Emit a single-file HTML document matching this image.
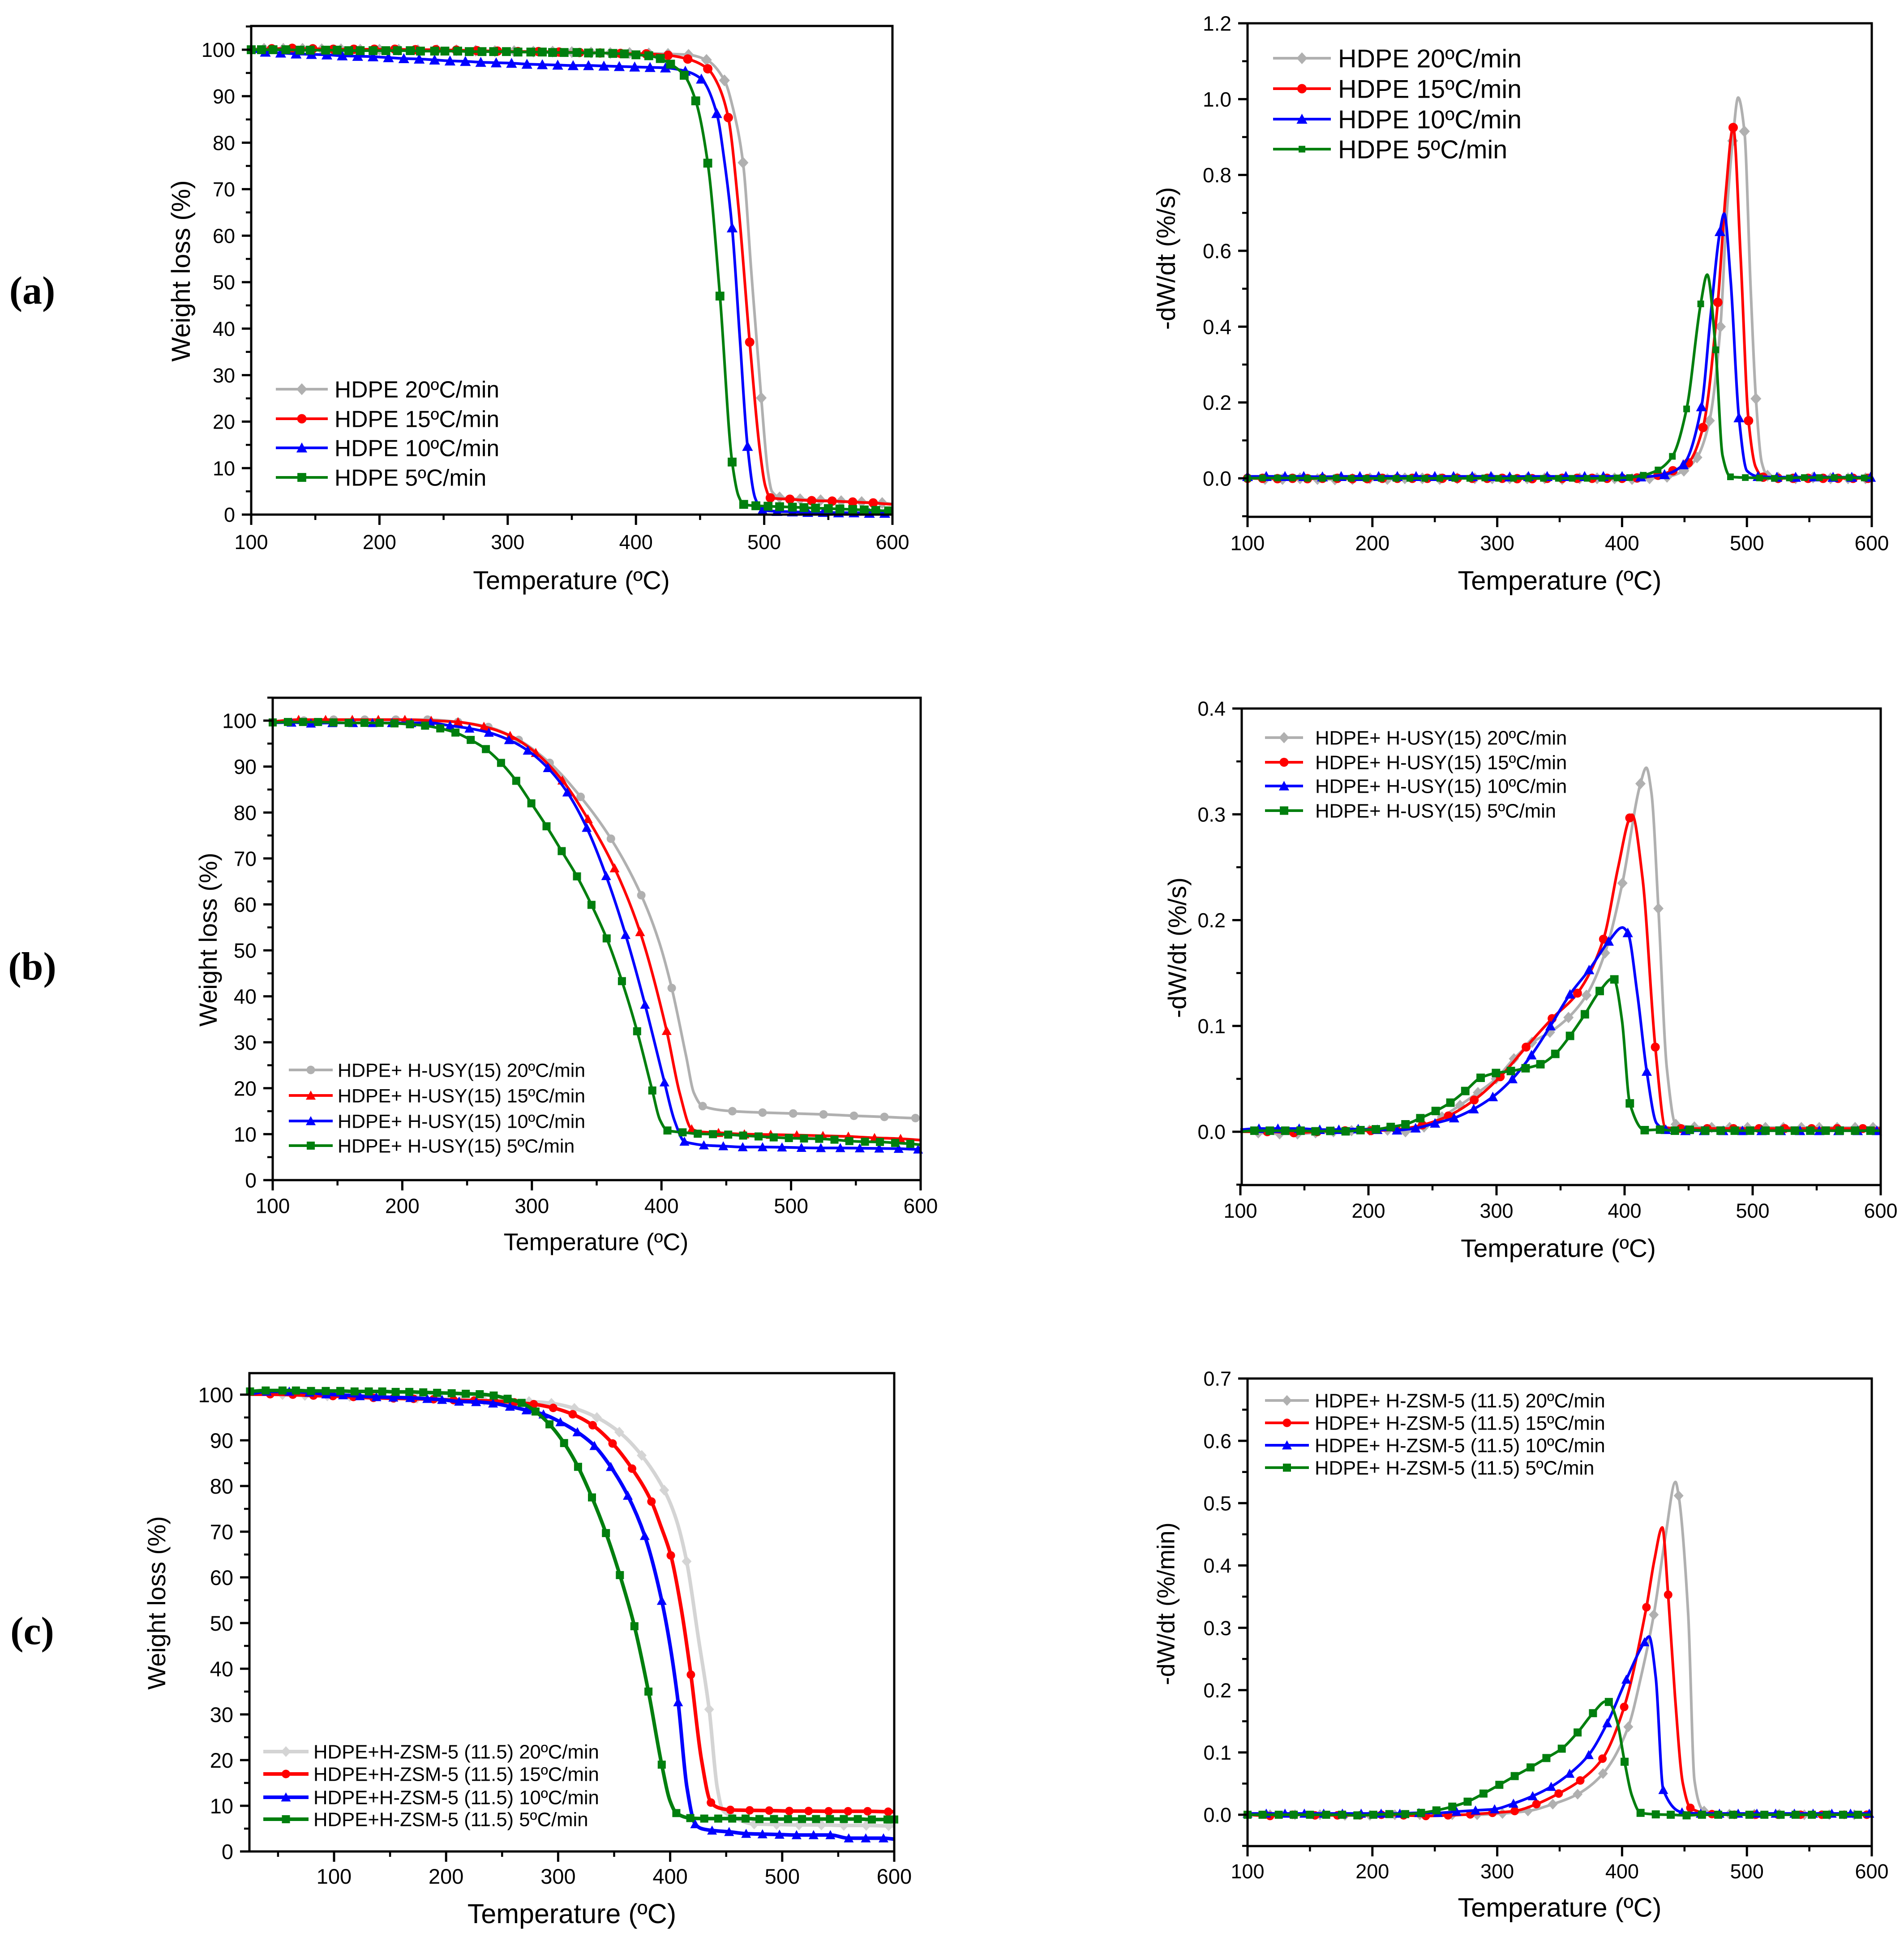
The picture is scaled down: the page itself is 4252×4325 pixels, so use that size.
<!DOCTYPE html>
<html lang="en">
<head>
<meta charset="utf-8">
<title>TGA and DTG curves of HDPE with catalysts</title>
<style>
html,body{margin:0;padding:0;background:#fff}
svg{display:block}
text{font-family:"Liberation Sans",Arial,sans-serif;fill:#000}
</style>
</head>
<body>
<svg id="figure" xmlns="http://www.w3.org/2000/svg" width="4252" height="4325" viewBox="0 0 4252 4325">
<rect x="0" y="0" width="4252" height="4325" fill="#ffffff"/>
<text x="72" y="678" text-anchor="middle" font-size="88" style="font-family:'Liberation Serif',serif;font-weight:bold">(a)</text>
<text x="72" y="2187" text-anchor="middle" font-size="88" style="font-family:'Liberation Serif',serif;font-weight:bold">(b)</text>
<text x="72" y="3671" text-anchor="middle" font-size="88" style="font-family:'Liberation Serif',serif;font-weight:bold">(c)</text>
</svg>
<script>
/* ---------- tick labels ---------- */
const tempTicks=[100,200,300,400,500,600];
const weightTicks=[0,10,20,30,40,50,60,70,80,90,100];
const dtgTicksA=[0.0,0.2,0.4,0.6,0.8,1.0,1.2];
const dtgTicksB=[0.0,0.1,0.2,0.3,0.4];
const dtgTicksC=[0.0,0.1,0.2,0.3,0.4,0.5,0.6,0.7];

/* ---------- legend labels ---------- */
const legendA=['HDPE 20ºC/min','HDPE 15ºC/min','HDPE 10ºC/min','HDPE 5ºC/min'];
const legendB=['HDPE+ H-USY(15) 20ºC/min','HDPE+ H-USY(15) 15ºC/min','HDPE+ H-USY(15) 10ºC/min','HDPE+ H-USY(15) 5ºC/min'];
const legendC=['HDPE+H-ZSM-5 (11.5) 20ºC/min','HDPE+H-ZSM-5 (11.5) 15ºC/min','HDPE+H-ZSM-5 (11.5) 10ºC/min','HDPE+H-ZSM-5 (11.5) 5ºC/min'];
const legendD=['HDPE+ H-ZSM-5 (11.5) 20ºC/min','HDPE+ H-ZSM-5 (11.5) 15ºC/min','HDPE+ H-ZSM-5 (11.5) 10ºC/min','HDPE+ H-ZSM-5 (11.5) 5ºC/min'];

/* ---------- panel (a) weight loss ---------- */
const a1T20=[100,110,125,140,155,170,185,200,215,230,245,260,275,290,305,320,335,350,365,380,395,410,425,441,455,469,476,483.5,490,497.7,503,506,512,528,544,560,576,592,600];
const a1V20=[100.2,100.2,100.2,100.2,100.1,100.1,100,100,100,99.9,99.9,99.9,99.8,99.7,99.7,99.6,99.6,99.5,99.4,99.3,99.3,99.2,99.1,98.9,97.8,93.4,87,75.7,52,25.1,9,5,3.7,3.3,3.1,2.9,2.7,2.5,2.3];
const a1N20=[100,476,490,503,506,600];
const a1T15=[100,116,132,148,164,180,196,212,228,244,260,276,292,308,324,340,356,372,388,408,425,440.4,456,464,472,480,488.7,497,501,504.8,520,537,553,569,585,600];
const a1V15=[100,100.2,100.3,100.2,100.1,100.1,100.1,100.1,100,100,99.9,99.8,99.7,99.6,99.6,99.5,99.4,99.3,99.2,99.1,98.8,98,95.9,92.5,85.4,66,37.1,13,6,3.6,3.3,3,2.9,2.7,2.5,2.2];
const a1N15=[100,464,480,497,501,600];
const a1T10=[100,111,123,135,147,159,171,183,195,207,219,231,243,255,267,279,291,303,315,327,339,351,363,375,387,399,411,423,438.5,451,463,469,475,481,487,493,498.7,510,522,534,546,558,570,582,594,600];
const a1V10=[99.6,99.5,99.3,99.1,99,98.9,98.7,98.6,98.5,98.3,98.1,98,97.8,97.6,97.5,97.3,97.2,97.1,96.9,96.8,96.7,96.6,96.6,96.5,96.4,96.3,96.2,96.1,95.4,93.7,86.3,76,61.7,38,14.7,3.5,0.95,0.7,0.6,0.5,0.5,0.4,0.4,0.3,0.3,0.3];
const a1N10=[100,469,481,493,600];
const a1T5=[100,108,117,127,138,146,158,167,176,185,195,205,214,224,232,243,251,261,270,280,289,299,308,318,327,335,344,354,363,372,382,391,400,410,419,427,437.6,446.6,456,465.5,475,480,484,493.5,503,512,522,531,540,550,559,569,578,587,597,600];
const a1V5=[100,100,100,100,99.9,99.9,99.9,99.9,99.8,99.8,99.8,99.8,99.8,99.8,99.7,99.7,99.7,99.7,99.6,99.6,99.6,99.6,99.5,99.5,99.5,99.4,99.4,99.4,99.3,99.3,99.2,99.1,98.9,98.7,98.1,96.9,94.5,89,75.6,47,11.3,4,2.2,1.9,1.8,1.7,1.6,1.5,1.4,1.3,1.2,1.1,1,0.9,0.8,0.8];
const a1N5=[480,600];

/* ---------- panel (a) DTG ---------- */
const a2T20=[100,114,128,142,156,170,184,198,212,226,240,254,268,282,296,310,324,338,352,366,380,394,408,422,436,449.5,460,470,478.8,483.5,488.6,493,498,503,507.2,512,516.5,525,539,553,567,581,595,600];
const a2V20=[0,-0.002,-0.002,0,-0.002,-0.003,-0.002,0,-0.002,0,0,-0.002,0,0,0,0,0,0,-0.002,0,0,0,-0.002,0,0.004,0.02,0.055,0.152,0.4,0.68,0.89,1.004,0.915,0.5,0.21,0.04,0.007,0.002,0,0.002,0,0,0,0];
const a2N20=[100,483.5,493,503,512,600];
const a2T15=[100,112,124,136,148,160,172,184,196,208,220,232,244,256,268,280,292,304,316,328,340,352,364,376,388,400,412,428.8,440.7,453,464.8,476.7,483,489,495,501.3,507,513,525,537,549,561,573,585,597,600];
const a2V15=[0,0,-0.001,0,-0.001,0,0,-0.001,-0.001,0,0,0,0,0,0,0,0,0,-0.001,-0.001,0,0,0,0,0,0,0.001,0.008,0.02,0.041,0.134,0.464,0.75,0.925,0.58,0.152,0.03,0.003,0,0,0,0,0,0,0,0];
const a2N15=[483,495,507,600];
const a2T10=[100,115,130,145,160,175,190,205,220,235,250,265,280,295,310,325,340,355,370,385,400,415,434,449,463.6,471,478.4,481.8,487,493.6,500,508.9,524,539,554,569,584,599,600];
const a2V10=[0.005,0.005,0.005,0.005,0.004,0.005,0.005,0.005,0.005,0.005,0.005,0.005,0.005,0.005,0.004,0.005,0.005,0.005,0.005,0.005,0.005,0.004,0.01,0.036,0.189,0.43,0.651,0.698,0.52,0.16,0.02,0.005,0.003,0.003,0.004,0.003,0.003,0.003,0.003];
const a2N10=[471,481.8,487,500,600];
const a2T5=[100,112,124,136,148,160,171,183,195,207,219,230,242,254,266,278,290,301,313,325,337,349,360,372,384,396,406,417,428.8,440.3,451.7,463,468.2,475,480.5,486.8,498.7,510,522,534,546,558,570,582,594,600];
const a2V5=[0,0.001,0.001,0.001,0,0,0.001,0,0,0,0,0,0,0,0,0,0.001,0,0,0,0,0,0,0,0,0.001,0.002,0.008,0.022,0.058,0.183,0.46,0.537,0.339,0.06,0.004,0.002,0.001,0,0.001,0.002,0.002,0.002,0.002,0.001,0.001];
const a2N5=[468.2,480.5,600];

/* ---------- panel (b) weight loss ---------- */
const b1T20=[100,124,147,171,195,219.5,243,266.4,289.8,313.7,337.6,361,384.4,398,407.9,419,425,431.8,454.7,478,501.6,525,548.5,572,596,600];
const b1V20=[99.8,100,100.2,100.2,100.2,100.2,99.7,98.6,95.8,90.8,83.4,74.3,62,52,41.8,27,19,16.1,15,14.7,14.5,14.3,14,13.75,13.5,13.5];
const b1N20=[100,398,419,425,600];
const b1T15=[100,120,140.8,161.4,181.5,202,222.3,243,263,283.2,303,323.5,343.2,363.8,383.5,404,414,423.3,431,444,464,484.3,504.4,524.6,544.2,564.4,584.5,600];
const b1V15=[99.8,100.2,100.2,100.2,100.2,100.2,100,99.7,98.7,96.7,93,87,78.6,67.9,54,32.5,19,11.1,10.5,10.3,10,9.9,9.8,9.65,9.5,9.2,9,8.7];
const b1N15=[100,414,431,600];
const b1T10=[100,114.5,129.5,146,162,177,192,207,221.8,236.8,251.8,266.8,282.3,296.8,312.3,327.3,342.3,357.3,372.3,387.3,402.3,410,417.7,425,432.7,447.7,462.7,478,493,508,523,538,553,568,583,598,600];
const b1V10=[99.5,99.6,99.4,99.5,99.5,99.5,99.5,99.5,99.5,98.9,98.3,97.4,95.8,93.5,89.7,84.4,76.7,66.2,53.4,38.2,21.3,13,8.4,7.9,7.6,7.4,7.2,7.2,7.15,7.05,7,7,6.95,6.9,6.85,6.7,6.7];
const b1N10=[100,410,425,600];
const b1T5=[100,111.7,123.4,135,146.9,158.6,170.8,182.5,194,205.9,217.6,229.3,241,252.8,264.5,276.2,287.9,299.6,311.3,323,334.8,346,357.7,369.5,381.2,392.9,399,404.6,416.3,428,439.7,451.5,463,474.9,486.6,498.3,510,521.7,533.5,545,557,568.6,580.3,592,600];
const b1V5=[99.6,99.7,99.7,99.7,99.6,99.5,99.5,99.5,99.4,99.2,98.9,98.3,97.4,95.8,93.8,90.8,86.9,82,77,71.6,66.1,59.9,52.6,43.3,32.4,19.5,13,10.8,10.4,10.1,10,9.9,9.7,9.5,9.3,9.15,9.05,9,8.8,8.5,8.35,8.3,8.1,7.9,7.7];
const b1N5=[399,600];

/* ---------- panel (b) DTG ---------- */
const b2T20=[100,114,130.6,144.6,158.7,172.7,186.8,200.8,214.9,228.9,243.4,257.4,271.5,285.5,299.6,313.6,327.7,341.7,356.2,370.2,384.7,398.3,412.4,417,421,426.4,433,440,454.5,468,482,496,510,524,538,552,566,580,594,600];
const b2V20=[0.001,-0.001,-0.002,-0.002,-0.001,0,0.001,0.0015,0.0015,0,0.0045,0.014,0.025,0.037,0.05,0.069,0.0845,0.094,0.108,0.129,0.169,0.235,0.329,0.344,0.32,0.211,0.06,0.007,0.0045,0.004,0.004,0.004,0.004,0.004,0.004,0.004,0.004,0.004,0.004,0.004];
const b2N20=[100,417,421,433,600];
const b2T15=[100,121,141.7,160,181.8,202,221.9,242.1,262.4,282.6,302.9,323.1,343.4,363.2,383.5,395,404,405.8,414,424,432,444,464.5,485,505,525,546,566,586,600];
const b2V15=[0,0,-0.001,0,0.001,0.001,0.002,0.0064,0.015,0.03,0.052,0.08,0.107,0.131,0.182,0.25,0.2966,0.2996,0.24,0.08,0.004,0.003,0.003,0.003,0.003,0.003,0.003,0.003,0.003,0.003];
const b2N15=[100,395,405.8,414,432,600];
const b2T10=[100,114.5,129.3,145.9,162,176.9,192,207,222.3,236.8,252,266.9,282.2,297.1,312.4,327.3,342.1,357.4,372.3,387.6,398.3,402.5,410,417.3,425,432.2,447.5,462,477,492,507,522,537,552,567,582,597,600];
const b2V10=[0.002,0.003,0.003,0.003,0.002,0.002,0.0026,0.002,0.0015,0.0034,0.008,0.013,0.0215,0.033,0.05,0.0725,0.1,0.13,0.153,0.18,0.193,0.188,0.13,0.057,0.008,0.002,0.001,0.001,0.001,0.001,0.001,0.001,0.001,0.001,0.001,0.001,0.001,0.001];
const b2N10=[100,398.3,410,425,600];
const b2T5=[100,111,123,135,147,158.7,170.2,182.2,193.8,205.8,217.4,228.9,240.5,252.5,264,275.6,287.6,299.6,311.2,322.7,334.3,345.9,357.4,369,380.6,391,392,398,404.1,415.7,427.7,439.3,450.9,463,475,486,498,510,521,533,545,557,568,580,592,600];
const b2V5=[0,0.001,0.001,0.001,0.001,0.0004,0.0008,0.0004,0.0015,0.0023,0.0045,0.007,0.0128,0.0196,0.0275,0.0385,0.051,0.0555,0.0574,0.06,0.0638,0.0736,0.0906,0.111,0.133,0.145,0.144,0.105,0.0268,0.0015,0.002,0.001,0.0018,0.001,0.001,0.001,0.001,0.001,0.001,0.001,0.001,0.001,0.001,0.001,0.001,0.001];
const b2N5=[100,391,398,600];

/* ---------- panel (c) weight loss ---------- */
const c1T20=[25,54,74,94,114,134,154,174,194,214,234,254,274,294,314.5,334.6,354.6,374.6,394.7,405,414.7,425,434.8,442,447,454.8,475,495,515,535,555,575,595,600];
const c1V20=[100.1,100,99.8,99.7,99.6,99.5,99.3,99.2,99,98.9,98.7,98.6,98.5,98.1,97,95,91.8,86.7,79.1,73,63.5,47,31.1,14,9,7.7,6,5.9,5.8,5.8,5.7,5.7,5.6,5.6];
const c1N20=[25,405,425,442,447,600];
const c1T15=[25,43,63.2,81.6,99,117.3,135.2,153,171,188.8,206.7,225.1,243,260.9,278.2,295.6,313,330.8,348.6,366,383.3,392,400.6,410,418.5,428,436.4,444,453.7,471,488.4,506.3,523.6,541.5,558.8,576.2,594.6,600];
const c1V15=[100.1,100.1,100,99.8,99.7,99.5,99.3,99.2,99.1,99,98.8,98.7,98.6,98.3,97.9,97.1,95.7,93.3,89.3,83.8,76.6,71,64.8,53,38.7,20,10.7,9.5,9.1,9,8.95,8.85,8.85,8.8,8.8,8.8,8.7,8.7];
const c1N15=[25,392,410,428,444,600];
const c1T10=[25,40,60,78,93,108,123,137.8,152.9,168,183.2,196.4,211.6,226.8,241.9,257,271.7,286.9,302,317.2,332.4,347,362.2,377.3,392.5,400,407.1,415,422.3,428,437.4,452.6,467.8,482.4,497.6,512.8,528,543,559.4,574.6,590.4,600];
const c1V10=[100.2,100.7,100.7,100.5,100.1,99.9,99.7,99.5,99.4,99.3,99.1,98.9,98.5,98.4,98.1,97.4,96.6,95.7,94,91.8,88.8,84.2,77.9,69.1,54.9,45,32.7,14,6,5,4.6,4.3,3.9,3.8,3.7,3.6,3.6,3.6,2.9,2.9,2.9,2.7];
const c1N10=[25,400,415,428,600];
const c1T5=[25,39,54,66,79.4,92.6,105.6,118.3,131,143,155,167.2,179.6,192,205,217.6,230,242.5,254.9,267.4,279.8,292.3,305.3,317.8,330.2,342.7,355.1,368.1,380.6,392.5,400,405.5,418,430.4,442.9,455.4,467.3,479.7,492.7,505.2,517.7,530.2,542.6,555,567.5,580,594,600];
const c1V5=[100.7,100.9,100.9,100.9,100.8,100.8,100.8,100.7,100.7,100.7,100.6,100.6,100.5,100.4,100.3,100.2,100.1,99.8,99.1,98.2,96.3,93.5,89.4,84.2,77.5,69.7,60.5,49.3,35,19,11,8.4,7.3,7.2,7.2,7.2,7.2,7.1,7.1,7.1,7.1,7.1,7.1,7.1,7.1,7,7,7];
const c1N5=[400];

/* ---------- panel (c) DTG ---------- */
const c2T20=[100,118,138,158,178,198,218,238,264,283.9,304.2,324.6,344.5,364.4,384.7,405,415,425.4,435,442.8,445.3,453,458,463.6,465.7,486,506,526,546,566,586,600];
const c2V20=[0,0,0,0,-0.001,-0.001,0,0,0,0,0.002,0.006,0.017,0.033,0.066,0.141,0.22,0.321,0.45,0.534,0.512,0.32,0.055,0.01,0.006,0.001,0.001,0.001,0,0,0,0];
const c2N20=[100,415,435,442.8,453,458,463.6,600];
const c2T15=[100,118,136,154,172,190,207.2,225,242.8,260.6,278.4,296.2,314,331.4,349.2,366.5,384.3,401.7,419.5,426,432.2,436.9,442.4,448.7,454.7,472,490,507,525,543,560,578,596,600];
const c2V15=[0,-0.002,0,-0.001,-0.001,-0.001,0,-0.001,-0.002,-0.001,0.0006,0.003,0.006,0.017,0.034,0.055,0.09,0.173,0.333,0.41,0.461,0.353,0.19,0.05,0.011,0.001,0,0,0,0,0,0,0,0];
const c2N15=[426,432.2,442.4,448.7,600];
const c2T10=[100,115,130,145.5,161,176,191,207,222,237.3,252.5,267.4,282.6,297.9,313,328.4,343.2,358,373.3,388.1,403.4,418,421.6,427,433,448,463,478,493,508,523,538,553,568,583,598,600];
const c2V10=[0.002,0.002,0.002,0.002,0.002,0.002,0.002,0.002,0.002,0.003,0.003,0.005,0.007,0.009,0.018,0.03,0.045,0.066,0.096,0.147,0.217,0.277,0.286,0.22,0.04,0.004,0.002,0.002,0.002,0.002,0.002,0.002,0.002,0.002,0.002,0.002,0.002];
const c2N10=[421.6,427,600];
const c2T5=[100,112,125,137,150,163,175.7,188,200.8,213.6,226.3,239,251.3,264,276.3,289,301.7,314,326.7,339.4,351.7,364.4,376.7,387.3,389.4,396,402,408,414.8,427,439,451.7,464,477,489,502,514,527,539,552,564,577,589,600];
const c2V5=[0,0,0,0,0,0,0,-0.001,0,0.001,0.001,0.003,0.007,0.013,0.021,0.034,0.048,0.062,0.076,0.091,0.106,0.132,0.163,0.182,0.181,0.15,0.085,0.03,0.003,0.0006,0,-0.001,0,0,0,0,0,0,0,0,0,0,0,0];
const c2N5=[387.3,396,408,600];

/* ---------- panel styling and layout ---------- */
const grey='#b0b0b0',lightGrey='#d4d4d4',red='#ff0000',blue='#0000ff',green='#007f0e';
const panels=[
 {id:'a-tga',l:561,r:1993,t:58,b:1149,x100:561,x600:1993,yA:0,pA:1149,yB:100,pB:111,xMinor:1,yTicks:weightTicks,fmt:0,yTitle:'Weight loss (%)',ytx:403,yty:605,yts:58,xtx:1276,xty:1295,xts:57.5,tickY:1210,tickS:45,
  leg:legendA,legY:[869,935,1000,1066],legL:616,legR:732,legT:747,legS:51.5,w:6,m:1.1,
  s:[[a1T20,a1V20,a1N20,grey,'diamond'],[a1T15,a1V15,a1N15,red,'circle'],[a1T10,a1V10,a1N10,blue,'triangle'],[a1T5,a1V5,a1N5,green,'square']]},
 {id:'a-dtg',l:2786,r:4180,t:52,b:1154,x100:2786,x600:4180,yA:0,pA:1068,yB:1.2,pB:52,yTicks:dtgTicksA,fmt:1,yTitle:'-dW/dt (%/s)',ytx:2603,yty:577,yts:57.4,xtx:3483,xty:1295,xts:59.5,tickY:1212,tickS:46,
  leg:legendA,legY:[130,198,266,333],legL:2843,legR:2972,legT:2988,legS:57.4,w:6,m:1.1,greenM:0.75,
  s:[[a2T20,a2V20,a2N20,grey,'diamond'],[a2T15,a2V15,a2N15,red,'circle'],[a2T10,a2V10,a2N10,blue,'triangle'],[a2T5,a2V5,a2N5,green,'square']]},
 {id:'b-tga',l:609,r:2056,t:1558,b:2635,x100:609,x600:2056,yA:0,pA:2635,yB:100,pB:1609,yTicks:weightTicks,fmt:0,yTitle:'Weight loss (%)',ytx:464,yty:2098,yts:55.6,xtx:1331,xty:2772,xts:54,tickY:2692,tickS:46,
  leg:legendB,legY:[2389,2446,2503,2558],legL:645,legR:743,legT:754,legS:42.9,w:6,m:1,
  s:[[b1T20,b1V20,b1N20,grey,'circle'],[b1T15,b1V15,b1N15,red,'triangle'],[b1T10,b1V10,b1N10,blue,'triangle'],[b1T5,b1V5,b1N5,green,'square']]},
 {id:'b-dtg',l:2773,r:4200,t:1582,b:2646,x100:2770,x600:4200,yA:0,pA:2527,yB:0.4,pB:1582,yTicks:dtgTicksB,fmt:1,yTitle:'-dW/dt  (%/s)',ytx:2628,yty:2116,yts:56.5,xtx:3480,xty:2786,xts:57,tickY:2703,tickS:45,
  leg:legendB,legY:[1647,1702,1755,1810],legL:2825,legR:2910,legT:2937,legS:43.6,w:6,m:1.05,
  s:[[b2T20,b2V20,b2N20,grey,'diamond'],[b2T15,b2V15,b2N15,red,'circle'],[b2T10,b2V10,b2N10,blue,'triangle'],[b2T5,b2V5,b2N5,green,'square']]},
 {id:'c-tga',l:557,r:1997,t:3066,b:4134,x100:746,x600:1997,yA:0,pA:4134,yB:100,pB:3114,yTicks:weightTicks,fmt:0,yTitle:'Weight loss (%)',ytx:349,yty:3579,yts:55.5,xtx:1277,xty:4272,xts:61,tickY:4189,tickS:47,
  leg:legendC,legY:[3911,3961,4013,4062],legL:588,legR:689,legT:700,legS:43.7,w:8,m:1,extraMinor:[50],
  s:[[c1T20,c1V20,c1N20,lightGrey,'diamond'],[c1T15,c1V15,c1N15,red,'circle'],[c1T10,c1V10,c1N10,blue,'triangle'],[c1T5,c1V5,c1N5,green,'square']]},
 {id:'c-dtg',l:2786,r:4180,t:3078,b:4122,x100:2786,x600:4180,yA:0,pA:4052,yB:0.7,pB:3078,yTicks:dtgTicksC,fmt:1,yTitle:'-dW/dt (%/min)',ytx:2603,yty:3581,yts:54.5,xtx:3483,xty:4258,xts:59.5,tickY:4178,tickS:45,
  leg:legendD,legY:[3127,3177,3227,3277],legL:2825,legR:2923,legT:2936,legS:43.6,w:6,m:1,
  s:[[c2T20,c2V20,c2N20,grey,'diamond'],[c2T15,c2V15,c2N15,red,'circle'],[c2T10,c2V10,c2N10,blue,'triangle'],[c2T5,c2V5,c2N5,green,'square']]}
];
const rateNames=['20','15','10','5'];

/* ---------- drawing ---------- */
const NS='http://www.w3.org/2000/svg';
const figure=document.getElementById('figure');
function make(tag,attrs,parent){
  const e=document.createElementNS(NS,tag);
  for(const k in attrs)e.setAttribute(k,attrs[k]);
  parent.appendChild(e);
  return e;
}
function monotonePath(pts){
  const n=pts.length,dx=[],sl=[],m=new Array(n);
  for(let i=0;i<n-1;i++){dx[i]=pts[i+1][0]-pts[i][0];sl[i]=(pts[i+1][1]-pts[i][1])/dx[i];}
  m[0]=sl[0];m[n-1]=sl[n-2];
  for(let i=1;i<n-1;i++){
    if(sl[i-1]*sl[i]<=0)m[i]=0;
    else{const w1=2*dx[i]+dx[i-1],w2=dx[i]+2*dx[i-1];m[i]=(w1+w2)/(w1/sl[i-1]+w2/sl[i]);}
  }
  let d='M'+pts[0][0].toFixed(1)+' '+pts[0][1].toFixed(1);
  for(let i=0;i<n-1;i++){
    const h=dx[i]/3;
    d+='C'+(pts[i][0]+h).toFixed(1)+' '+(pts[i][1]+m[i]*h).toFixed(1)+' '+(pts[i+1][0]-h).toFixed(1)+' '+(pts[i+1][1]-m[i+1]*h).toFixed(1)+' '+pts[i+1][0].toFixed(1)+' '+pts[i+1][1].toFixed(1);
  }
  return d;
}
function drawMarker(shape,x,y,color,k,parent){
  let e;
  if(shape==='circle'){
    e=make('circle',{cx:x.toFixed(1),cy:y.toFixed(1),r:(9.5*k).toFixed(1),fill:color},parent);
  }else if(shape==='square'){
    const h=9*k;
    e=make('rect',{x:(x-h).toFixed(1),y:(y-h).toFixed(1),width:(2*h).toFixed(1),height:(2*h).toFixed(1),fill:color},parent);
  }else if(shape==='triangle'){
    const w=11*k,h=11*k;
    e=make('polygon',{points:(x)+','+(y-h)+' '+(x+w)+','+(y+h*0.85)+' '+(x-w)+','+(y+h*0.85),fill:color},parent);
  }else{
    const w=11*k,h=12*k;
    e=make('polygon',{points:(x)+','+(y-h)+' '+(x+w)+','+(y)+' '+(x)+','+(y+h)+' '+(x-w)+','+(y),fill:color},parent);
  }
  return e;
}
panels.forEach(function(p){
  const xOf=function(t){return p.x100+(t-100)*(p.x600-p.x100)/500;};
  const yOf=function(v){return p.pA+(v-p.yA)*(p.pB-p.pA)/(p.yB-p.yA);};
  const g=make('g',{},figure);
  
  

  /* series */
  p.s.forEach(function(s,si){
    const T=s[0],V=s[1],N=s[2],color=s[3],shape=s[4];
    const sg=make('g',{},g);
    
    
    const n=Math.min(T.length,V.length),pts=[];
    for(let i=0;i<n;i++)pts.push([xOf(T[i]),yOf(V[i])]);
    const line=make('path',{d:monotonePath(pts),fill:'none',stroke:color,'stroke-width':p.w,'stroke-linejoin':'round','stroke-linecap':'butt'},sg);
    
    
    const mk=p.m*((si===3&&p.greenM)?p.greenM:1);
    for(let i=0;i<n;i++){
      if(N.indexOf(T[i])>=0)continue;
      const mark=drawMarker(shape,pts[i][0],pts[i][1],color,mk,sg);
      
      
    }
  });

  /* frame */
  const frame=make('rect',{x:p.l,y:p.t,width:p.r-p.l,height:p.b-p.t,fill:'none',stroke:'#000','stroke-width':5},g);
  
  

  /* x ticks */
  tempTicks.forEach(function(t){
    const x=xOf(t);
    const tick=make('line',{x1:x,x2:x,y1:p.b,y2:p.b+23,stroke:'#000','stroke-width':5},g);
    
    
    const lab=make('text',{x:x,y:p.tickY+p.tickS*0.36,'text-anchor':'middle','font-size':p.tickS},g);
    lab.textContent=String(t);
    
    
  });
  tempTicks.slice(0,-1).map(function(t){return t+50;}).concat(p.extraMinor||[]).forEach(function(t){
    const x=xOf(t);
    const tick=make('line',{x1:x,x2:x,y1:p.b,y2:p.b+12,stroke:'#000','stroke-width':4.5},g);
    
    
  });

  /* y ticks */
  const yt=p.yTicks,step=yt[1]-yt[0];
  yt.forEach(function(v){
    const y=yOf(v);
    const tick=make('line',{x1:p.l-21,x2:p.l,y1:y,y2:y,stroke:'#000','stroke-width':5},g);
    
    
    const lab=make('text',{x:p.l-36,y:y+p.tickS*0.36,'text-anchor':'end','font-size':p.tickS},g);
    lab.textContent=p.fmt?v.toFixed(p.fmt):String(v);
    
    
    [v-step/2,v+step/2].forEach(function(mv){
      const my=yOf(mv);
      if(my>p.b+1||my<p.t-1||(mv>yt[0]&&mv<v))return;
      const minor=make('line',{x1:p.l-12,x2:p.l,y1:my,y2:my,stroke:'#000','stroke-width':4.5},g);
      
      
    });
  });

  /* axis titles */
  const xt=make('text',{x:p.xtx,y:p.xty+p.xts*0.36,'text-anchor':'middle','font-size':p.xts},g);
  xt.textContent='Temperature (ºC)';
  
  
  const ytl=make('text',{x:0,y:0,'text-anchor':'middle','font-size':p.yts,transform:'translate('+p.ytx+' '+p.yty+') rotate(-90) translate(0 '+(p.yts*0.36)+')'},g);
  ytl.textContent=p.yTitle;
  
  

  /* legend */
  const lg=make('g',{},g);
  
  
  p.leg.forEach(function(txt,i){
    const y=p.legY[i],s=p.s[i],mid=(p.legL+p.legR)/2;
    const ln=make('line',{x1:p.legL,x2:p.legR,y1:y,y2:y,stroke:s[3],'stroke-width':p.w},lg);
    
    
    const mk=p.m*((i===3&&p.greenM)?p.greenM:1);
    const mark=drawMarker(s[4],mid,y,s[3],mk,lg);
    
    
    const t=make('text',{x:p.legT,y:y+p.legS*0.36,'font-size':p.legS},lg);
    t.textContent=txt;
    
    
  });
});
</script>
</body>
</html>
